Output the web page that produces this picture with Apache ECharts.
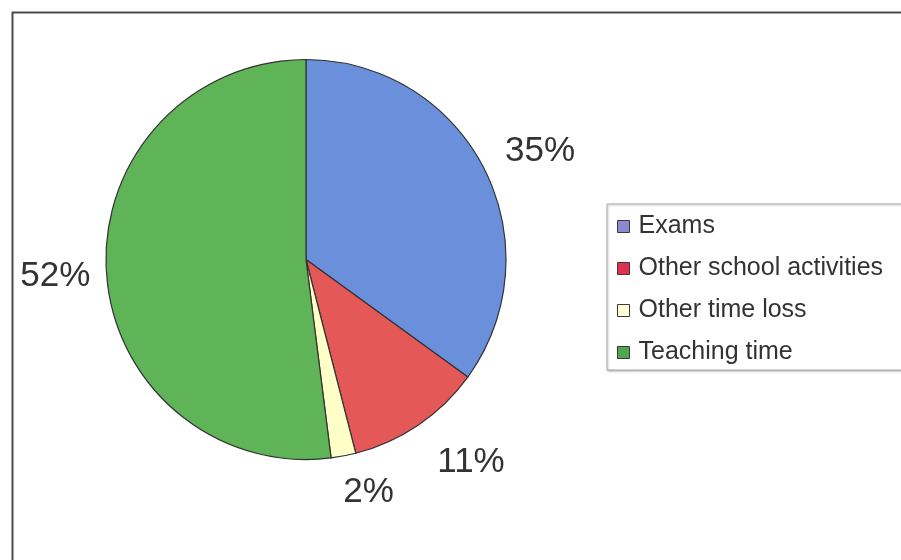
<!DOCTYPE html>
<html>
<head>
<meta charset="utf-8">
<script src="https://cdn.jsdelivr.net/npm/echarts@6/dist/echarts.min.js"></script>
<style>
html,body{margin:0;padding:0;background:#fff;}
#chart{width:901px;height:560px;}
</style>
</head>
<body>
<div id="chart"></div>
<script>
const categories = ['Exams', 'Other school activities', 'Other time loss', 'Teaching time'];
const values = [35, 11, 2, 52];
const sliceColors = ['#6a8fdb', '#e55858', '#ffffc8', '#5fb457'];
const legendColors = ['#8a8ad0', '#e0304e', '#ffffdc', '#4fa84f'];

// label placement style per slice (line length and small nudge)
const labelStyles = [
  { len: 20, dx: 3, dy: -8 },
  { len: 30, dx: 2, dy: 13 },
  { len: 25, dx: -5, dy: 12 },
  { len: 10, dx: -6, dy: 4 }
];

const chart = echarts.init(document.getElementById('chart'), null, { renderer: 'canvas' });

const pieData = categories.map((name, i) => ({
  name: name,
  value: values[i],
  itemStyle: { color: sliceColors[i] },
  labelLine: { show: false, length: labelStyles[i].len, length2: 0 }
}));

chart.setOption({
  backgroundColor: '#ffffff',
  animation: false,
  graphic: [{
    type: 'rect',
    left: 10, top: 10,
    shape: { width: 900, height: 560 },
    style: { fill: 'none', stroke: '#4a4a4a', lineWidth: 2 },
    silent: true
  }],
  legend: {
    orient: 'vertical',
    left: 607,
    top: 204,
    padding: [10, 10, 5, 10],
    itemGap: 17,
    itemWidth: 12,
    itemHeight: 12,
    icon: 'rect',
    borderColor: '#a8a8a8',
    borderWidth: 1,
    backgroundColor: '#ffffff',
    shadowColor: 'rgba(0,0,0,0.25)',
    shadowBlur: 2,
    shadowOffsetX: 1,
    shadowOffsetY: 1,
    selectedMode: false,
    textStyle: {
      fontFamily: 'Liberation Sans, Arial, sans-serif',
      fontSize: 25,
      lineHeight: 24,
      color: '#333333',
      padding: [0, 0, 0, 4],
      width: 275
    },
    data: categories.map((name, i) => ({
      name: name,
      itemStyle: { color: legendColors[i], borderColor: '#3a3a3a', borderWidth: 1 }
    }))
  },
  series: [{
    type: 'pie',
    center: [306, 259.5],
    radius: 200,
    startAngle: 90,
    clockwise: true,
    avoidLabelOverlap: false,
    itemStyle: { borderColor: '#333333', borderWidth: 1.2 },
    label: {
      show: true,
      position: 'outside',
      formatter: '{d}%',
      fontFamily: 'Liberation Sans, Arial, sans-serif',
      fontSize: 35,
      color: '#333333',
      distanceToLabelLine: 0
    },
    labelLine: { show: false },
    labelLayout: function (params) {
      const s = labelStyles[params.dataIndex];
      return { dx: s.dx, dy: s.dy };
    },
    emphasis: { disabled: true },
    data: pieData
  }]
});
</script>
</body>
</html>
